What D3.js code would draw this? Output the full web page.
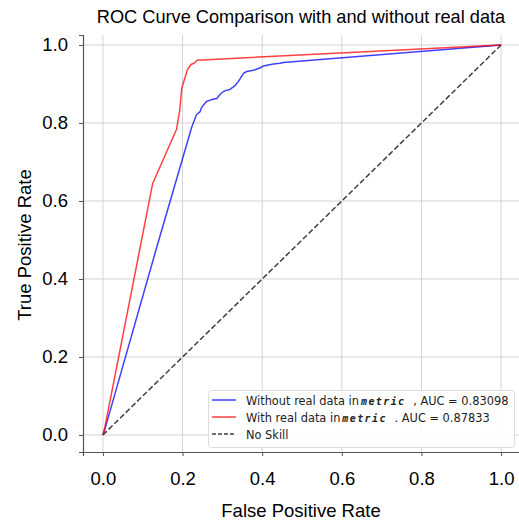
<!DOCTYPE html>
<html>
<head>
<meta charset="utf-8">
<script src="https://cdn.jsdelivr.net/npm/d3@7"></script>
<style>
  body { margin: 0; background: #fff; }
  svg text { font-family: "Liberation Sans", Arial, sans-serif; fill: #000; }
  .legend text { font-family: "DejaVu Sans", sans-serif; }
</style>
</head>
<body>
<div id="chart"></div>
<script>
var WIDTH = 519, HEIGHT = 520;

// ROC points (fpr, tpr)
var withoutFpr = [0, 0.005, 0.139, 0.223, 0.235, 0.244, 0.248, 0.260, 0.273, 0.277, 0.286, 0.294, 0.302, 0.307, 0.319, 0.332, 0.340, 0.353, 0.361, 0.378, 0.394, 0.403, 0.428, 0.445, 0.453, 1.0];
var withoutTpr = [0, 0.015, 0.495, 0.789, 0.821, 0.829, 0.840, 0.855, 0.860, 0.861, 0.863, 0.873, 0.880, 0.883, 0.886, 0.896, 0.906, 0.927, 0.932, 0.935, 0.941, 0.946, 0.951, 0.953, 0.955, 1.0];
var withFpr = [0, 0.005, 0.125, 0.185, 0.193, 0.198, 0.212, 0.221, 0.229, 0.237, 1.0];
var withTpr = [0, 0.02, 0.645, 0.784, 0.833, 0.889, 0.936, 0.950, 0.953, 0.961, 1.0];
var skillX = [0, 1];
var skillY = [0, 1];
var ticks = [0, 0.2, 0.4, 0.6, 0.8, 1.0];
var legendLabels = [
  ["Without real data in", "metric", " , AUC = 0.83098"],
  ["With real data in", "metric", " . AUC = 0.87833"],
  ["No Skill", "", ""]
];
var colors = ["rgba(0,0,255,0.75)", "rgba(255,0,0,0.75)", "#404040"];

var svg = d3.select("#chart").append("svg")
    .attr("width", WIDTH)
    .attr("height", HEIGHT);

var xScale = d3.scaleLinear().domain([-0.05, 1.05]).range([83, 521]);
var yScale = d3.scaleLinear().domain([-0.0436, 1.0256]).range([452, 35]);

// grid
svg.append("g")
  .selectAll("line.vx")
  .data(ticks)
  .enter().append("line")
    .attr("x1", d => xScale(d)).attr("x2", d => xScale(d))
    .attr("y1", yScale.range()[1]).attr("y2", yScale.range()[0])
    .style("stroke", "#d3d3d3").style("stroke-width", 1);

svg.append("g")
  .selectAll("line.hy")
  .data(ticks)
  .enter().append("line")
    .attr("x1", xScale.range()[0]).attr("x2", xScale.range()[1])
    .attr("y1", d => yScale(d)).attr("y2", d => yScale(d))
    .style("stroke", "#d3d3d3").style("stroke-width", 1);

var fmt = d3.format(".1f");

var xAxis = svg.append("g")
  .attr("transform", "translate(0,452)")
  .call(d3.axisBottom(xScale).tickValues(ticks).tickFormat(fmt).tickSizeOuter(0).tickSize(4).tickPadding(16));

var yAxis = svg.append("g")
  .attr("transform", "translate(83,0)")
  .call(d3.axisLeft(yScale).tickValues(ticks).tickFormat(fmt).tickSizeOuter(0).tickSize(4).tickPadding(11));

[xAxis, yAxis].forEach(function(a) {
  a.select(".domain").style("stroke", "#555").style("stroke-width", 1.2);
  a.selectAll(".tick line").style("stroke", "#555");
  a.selectAll(".tick text")
    .style("font-family", "Liberation Sans, Arial, sans-serif")
    .style("font-size", "18.5px")
    .style("fill", "#000");
});

var line = d3.line()
  .x(d => xScale(d[0]))
  .y(d => yScale(d[1]));

var series = [
  d3.zip(withoutFpr, withoutTpr),
  d3.zip(withFpr, withTpr)
];

svg.append("path")
  .attr("d", line(d3.zip(skillX, skillY)))
  .style("fill", "none")
  .style("stroke", colors[2])
  .style("stroke-width", 1.5)
  .style("stroke-dasharray", "5.5,2.5");

series.forEach(function(s, i) {
  svg.append("path")
    .attr("d", line(s))
    .style("fill", "none")
    .style("stroke", colors[i])
    .style("stroke-width", 1.5)
    .style("stroke-linejoin", "round");
});

// title and axis labels
svg.append("text")
  .attr("x", 301).attr("y", 23)
  .style("text-anchor", "middle")
  .style("font-size", "18.2px")
  .text("ROC Curve Comparison with and without real data");

svg.append("text")
  .attr("x", 301).attr("y", 517)
  .style("text-anchor", "middle")
  .style("font-size", "18.5px")
  .text("False Positive Rate");

svg.append("text")
  .attr("transform", "rotate(-90)")
  .attr("x", -245).attr("y", 31)
  .style("text-anchor", "middle")
  .style("font-size", "18.5px")
  .text("True Positive Rate");

// legend
var legend = svg.append("g").attr("class", "legend");
legend.append("rect")
  .attr("x", 208.5).attr("y", 390.5)
  .attr("width", 306).attr("height", 57)
  .attr("rx", 3)
  .style("fill", "rgba(255,255,255,0.85)")
  .style("stroke", "#dcdcdc");

legendLabels.forEach(function(l, i) {
  var y = 400 + i * 17;
  legend.append("line")
    .attr("x1", 212).attr("x2", 236)
    .attr("y1", y).attr("y2", y)
    .style("stroke", colors[i])
    .style("stroke-width", 1.5)
    .style("stroke-dasharray", i == 2 ? "4,2" : null);
  var t = legend.append("text")
    .attr("x", 246).attr("y", y + 4.5)
    .style("font-size", "11.4px")
    .style("fill", "#222");
  t.append("tspan").text(l[0]);
  if (l[1]) {
    t.append("tspan")
      .attr("dx", 2)
      .style("font-family", "DejaVu Sans Mono, monospace")
      .style("font-style", "italic")
      .style("font-weight", "bold")
      .style("font-size", "10px")
      .style("letter-spacing", "1.4px")
      .text(l[1]);
    t.append("tspan").attr("dx", 4).text(l[2]);
  }
});
</script>
</body>
</html>
